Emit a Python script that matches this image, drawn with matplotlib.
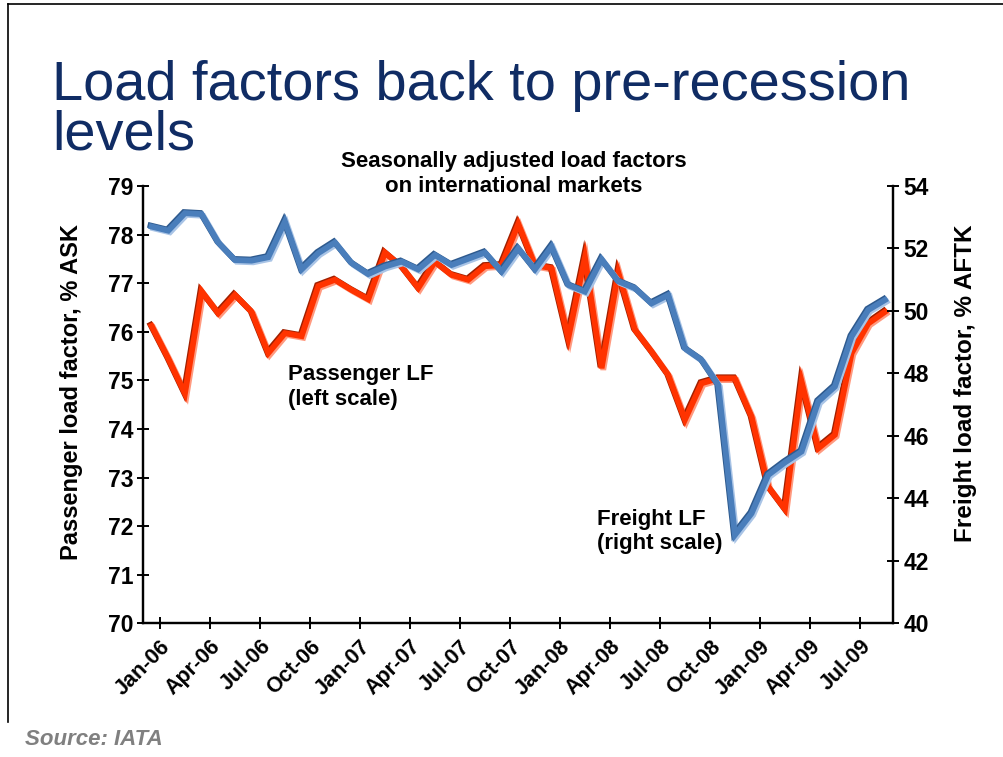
import matplotlib
matplotlib.use("Agg")
import matplotlib.pyplot as plt
import matplotlib.patheffects as pe
from matplotlib.lines import Line2D

plt.rcParams['font.family'] = ['Liberation Sans', 'DejaVu Sans']

# monthly data Jan-06 .. Sep-09
months = ['Jan', 'Feb', 'Mar', 'Apr', 'May', 'Jun', 'Jul', 'Aug', 'Sep', 'Oct', 'Nov', 'Dec']
dates = [f"{m}-{y:02d}" for y in range(6, 10) for m in months][:45]

passenger_lf = [76.12, 75.45, 74.73, 76.83, 76.38, 76.76, 76.41, 75.56, 75.97, 75.91,
                76.94, 77.07, 76.86, 76.67, 77.63, 77.34, 76.90, 77.44, 77.17, 77.07,
                77.35, 77.37, 78.22, 77.37, 77.31, 75.87, 77.53, 75.25, 77.22, 76.04,
                75.59, 75.11, 74.19, 74.94, 75.04, 75.04, 74.25, 72.81, 72.35, 74.97,
                73.60, 73.88, 75.56, 76.17, 76.41]

freight_lf = [52.70, 52.57, 53.13, 53.10, 52.19, 51.63, 51.61, 51.72, 52.86, 51.33,
              51.85, 52.19, 51.53, 51.18, 51.42, 51.58, 51.33, 51.79, 51.47, 51.67,
              51.87, 51.26, 52.00, 51.33, 52.06, 50.83, 50.62, 51.65, 50.95, 50.73,
              50.24, 50.51, 48.80, 48.43, 47.63, 42.83, 43.52, 44.75, 45.15, 45.50,
              47.10, 47.58, 49.18, 50.03, 50.35]

left_ticks = list(range(70, 80))
right_ticks = list(range(40, 55, 2))

red = '#FF3300'
blue = '#4A7EBB'

fig = plt.figure(figsize=(10.04, 7.57), dpi=100)
ax = fig.add_axes([0.1427, 0.1766, 0.747, 0.5777])
ax2 = ax.twinx()

x = list(range(len(dates)))

red_fx = [pe.SimpleLineShadow(offset=(1.2, -1.2), shadow_color='#FF9A80', alpha=1),
          pe.SimpleLineShadow(offset=(-0.8, 0.8), shadow_color='#A02000', alpha=1),
          pe.Normal()]
blue_fx = [pe.SimpleLineShadow(offset=(1.2, -1.2), shadow_color='#A9C4E6', alpha=1),
           pe.SimpleLineShadow(offset=(-0.8, 0.8), shadow_color='#2E5A8E', alpha=1),
           pe.Normal()]

ax.plot(x, passenger_lf, color=red, lw=4.2, solid_joinstyle='miter',
        path_effects=red_fx, zorder=3)
ax2.plot(x, freight_lf, color=blue, lw=4.2, solid_joinstyle='miter',
         path_effects=blue_fx, zorder=3)

ax.set_xlim(-0.5, len(dates) - 0.5)
ax.set_ylim(70, 79)
ax2.set_ylim(40, 54)
ax.set_yticks(left_ticks)
ax2.set_yticks(right_ticks)

tick_pos = [i + 0.5 for i in range(0, len(dates), 3)]
ax.set_xticks(tick_pos)
ax.set_xticklabels(dates[::3], rotation=45, ha='right', rotation_mode='anchor',
                   fontsize=15.5, fontweight='bold')

for a in (ax, ax2):
    a.spines['top'].set_visible(False)
    for s in a.spines.values():
        s.set_linewidth(1.6)
    a.tick_params(direction='inout', length=8.5, width=1.4)
    a.tick_params(axis='y', labelsize=16.5)
    for lbl in a.get_yticklabels():
        lbl.set_fontweight('bold')

ax.tick_params(axis='x', pad=5)
ax.tick_params(axis='y', pad=3)
ax2.tick_params(axis='y', pad=3)

ax.set_ylabel('Passenger load factor, % ASK', fontsize=17, fontweight='bold')
ax.yaxis.set_label_coords(-0.0804, 0.529)
ax2.set_ylabel('Freight load factor, % AFTK', fontsize=17.5, fontweight='bold', rotation=90)
ax2.yaxis.set_label_coords(1.0815, 0.55)

ax.text(8.2, 75.33, 'Passenger LF\n(left scale)', fontsize=16, fontweight='bold',
        linespacing=1.2, va='top', ha='left')
ax.text(26.7, 72.36, 'Freight LF\n(right scale)', fontsize=16, fontweight='bold',
        linespacing=1.2, va='top', ha='left')

# chart title inside the plot region
fig.text(0.512, 1 - 174 / 757, 'Seasonally adjusted load factors\non international markets',
         ha='center', va='center', fontsize=16, fontweight='bold', linespacing=1.2)

# slide title
navy = '#102C64'
fig.text(0.052, 1 - 100 / 757, 'Load factors back to pre-recession', fontsize=40.3,
         color=navy, va='baseline', ha='left')
fig.text(0.052, 1 - 150 / 757, 'levels', fontsize=40.3, color=navy, va='baseline', ha='left')

fig.text(0.025, 1 - 745 / 757, 'Source: IATA', fontsize=16, fontweight='bold',
         style='italic', color='#808080', ha='left', va='baseline')

# slide frame (top and left edges)
fig.add_artist(Line2D([8 / 1004, 1.0], [1 - 4 / 757, 1 - 4 / 757],
                      transform=fig.transFigure, color='black', lw=1.2))
fig.add_artist(Line2D([8 / 1004, 8 / 1004], [1 - 4 / 757, 1 - 722 / 757],
                      transform=fig.transFigure, color='black', lw=1.2))

fig.savefig('out.png', dpi=100)
